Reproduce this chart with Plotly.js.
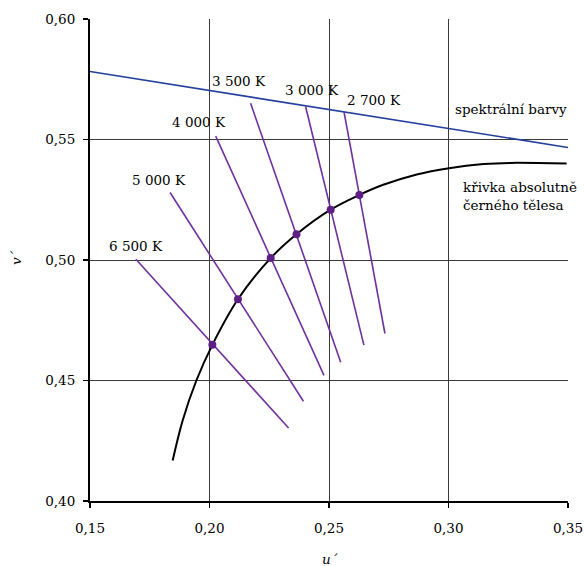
<!DOCTYPE html>
<html>
<head>
<meta charset="utf-8">
<script src="https://cdn.plot.ly/plotly-3.0.1.min.js"></script>
<style>html,body{margin:0;padding:0;background:#fff}#chart{width:584px;height:566px}</style>
</head>
<body>
<div id="chart"></div>
<script>
// Spectral locus (straight segment)
const spectralU = [0.15, 0.35];
const spectralV = [0.5782, 0.5467];

// Planckian locus (black body curve)
const planckU = [0.1846, 0.1888, 0.1945, 0.2012, 0.2119, 0.2256, 0.2364, 0.2507, 0.2627, 0.2727, 0.2867, 0.3002, 0.3146, 0.3257, 0.3494];
const planckV = [0.4168, 0.4335, 0.4500, 0.4648, 0.4837, 0.5008, 0.5107, 0.5209, 0.5270, 0.5312, 0.5355, 0.5381, 0.5398, 0.5403, 0.5400];

// Isotemperature lines
const tempLabels = ["6 500 K", "5 000 K", "4 000 K", "3 500 K", "3 000 K", "2 700 K"];
const isoUStart = [0.1692, 0.1835, 0.2026, 0.2172, 0.2402, 0.2563];
const isoVStart = [0.5003, 0.5280, 0.5514, 0.5650, 0.5637, 0.5614];
const isoUEnd   = [0.2331, 0.2393, 0.2479, 0.2549, 0.2646, 0.2734];
const isoVEnd   = [0.4303, 0.4414, 0.4521, 0.4576, 0.4647, 0.4695];

// Points where isotemperature lines meet the curve
const dotU = [0.2012, 0.2119, 0.2256, 0.2364, 0.2507, 0.2627];
const dotV = [0.4648, 0.4837, 0.5008, 0.5107, 0.5209, 0.5270];

// Label anchors for temperatures
const labelU = [0.1694, 0.1790, 0.1956, 0.2123, 0.2428, 0.2690];
const labelV = [0.5058, 0.5333, 0.5571, 0.5743, 0.5707, 0.5662];

// Axis ticks
const xTickVals = [0.15, 0.20, 0.25, 0.30, 0.35];
const xTickText = ["0,15", "0,20", "0,25", "0,30", "0,35"];
const yTickVals = [0.40, 0.45, 0.50, 0.55, 0.60];
const yTickText = ["0,40", "0,45", "0,50", "0,55", "0,60"];
const xGridVals = [0.20, 0.25, 0.30];
const yGridVals = [0.45, 0.50, 0.55];

const FONT = "DejaVu Serif";
const FS = 13.5;
const PURPLE = "#7030a0";
const DOT = "#5e1f85";
const BLUE = "#24409e";

const traces = [];
// grid helper trace (invisible)
traces.push({x: [], y: [], xaxis: "x2", yaxis: "y2", type: "scatter", mode: "markers", showlegend: false, hoverinfo: "skip"});

traces.push({x: spectralU, y: spectralV, type: "scatter", mode: "lines",
  line: {color: BLUE, width: 1.6}, showlegend: false, hoverinfo: "skip"});
traces.push({x: planckU, y: planckV, type: "scatter", mode: "lines",
  line: {color: "#000", width: 2, shape: "spline", smoothing: 1}, showlegend: false, hoverinfo: "skip"});
for (let i = 0; i < tempLabels.length; i++) {
  traces.push({x: [isoUStart[i], isoUEnd[i]], y: [isoVStart[i], isoVEnd[i]], type: "scatter", mode: "lines",
    line: {color: PURPLE, width: 1.6}, showlegend: false, hoverinfo: "skip"});
}
traces.push({x: dotU, y: dotV, type: "scatter", mode: "markers",
  marker: {color: DOT, size: 8}, showlegend: false, hoverinfo: "skip"});

const annotations = tempLabels.map((t, i) => ({
  x: labelU[i], y: labelV[i], xref: "x", yref: "y", text: t, showarrow: false,
  font: {family: FONT, size: FS, color: "#000"}, xanchor: "center", yanchor: "middle"
}));
annotations.push({x: 0.3262, y: 0.5628, xref: "x", yref: "y", text: "spektrální barvy", showarrow: false,
  font: {family: FONT, size: FS, color: "#000"}, xanchor: "center", yanchor: "middle"});
annotations.push({x: 0.3052, y: 0.5265, xref: "x", yref: "y", text: "křivka absolutně<br>černého tělesa", showarrow: false,
  align: "left", font: {family: FONT, size: FS, color: "#000"}, xanchor: "left", yanchor: "middle"});
annotations.push({x: -0.1548, y: 0.504, xref: "paper", yref: "paper", text: "<i>v´</i>", showarrow: false,
  textangle: -90, font: {family: FONT, size: FS, color: "#000"}, xanchor: "center", yanchor: "middle"});
annotations.push({x: 0.502, y: -0.12, xref: "paper", yref: "paper", text: "<i>u´</i>", showarrow: false,
  font: {family: FONT, size: FS, color: "#000"}, xanchor: "center", yanchor: "middle"});

const layout = {
  width: 584, height: 566,
  margin: {l: 90, r: 16, t: 19, b: 65, pad: 0},
  paper_bgcolor: "#fff", plot_bgcolor: "#fff",
  showlegend: false,
  font: {family: FONT, size: FS, color: "#000"},
  xaxis: {range: [0.15, 0.35], tickvals: xTickVals, ticktext: xTickText, showgrid: false, zeroline: false,
    showline: true, linecolor: "#000", linewidth: 2, ticks: "outside", ticklen: 5, tickwidth: 1.5, tickcolor: "#000",
    ticklabelstandoff: 9, ticklabeloverflow: "allow", tickfont: {family: FONT, size: FS, color: "#000"}, fixedrange: true},
  yaxis: {range: [0.40, 0.60], tickvals: yTickVals, ticktext: yTickText, showgrid: false, zeroline: false,
    showline: true, linecolor: "#000", linewidth: 2, ticks: "outside", ticklen: 5, tickwidth: 1.5, tickcolor: "#000",
    ticklabelstandoff: 5, ticklabeloverflow: "allow", tickfont: {family: FONT, size: FS, color: "#000"}, fixedrange: true},
  xaxis2: {overlaying: "x", anchor: "y2", range: [0.15, 0.35], tickvals: xGridVals, showgrid: true, gridcolor: "#3a3a3a",
    gridwidth: 1, showticklabels: false, ticks: "", showline: false, zeroline: false, layer: "below traces", fixedrange: true},
  yaxis2: {overlaying: "y", anchor: "x2", range: [0.40, 0.60], tickvals: yGridVals, showgrid: true, gridcolor: "#3a3a3a",
    gridwidth: 1, showticklabels: false, ticks: "", showline: false, zeroline: false, layer: "below traces", fixedrange: true},
  annotations: annotations
};

Plotly.newPlot("chart", traces, layout, {staticPlot: true, displayModeBar: false});
</script>
</body>
</html>
